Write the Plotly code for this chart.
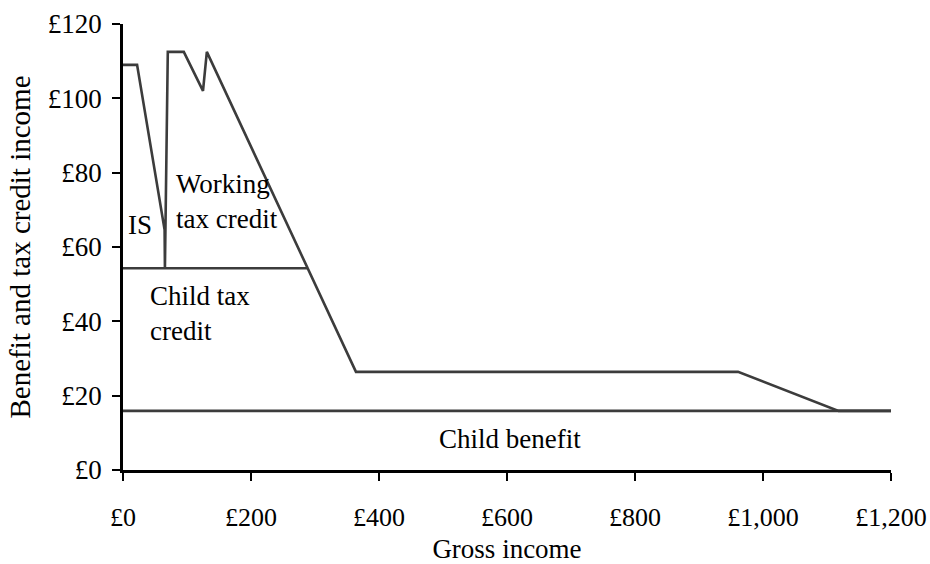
import plotly.graph_objects as go

# Data
total_x = [0, 22, 65, 65.5, 70, 95, 125, 131, 364, 961, 1118, 1200]
total_y = [109, 109, 64.6, 54.3, 112.5, 112.5, 102, 112.5, 26.4, 26.4, 15.9, 15.9]
ctc_x = [0, 288]
ctc_y = [54.3, 54.3]
cb_x = [0, 1200]
cb_y = [15.9, 15.9]

x_ticks = [0, 200, 400, 600, 800, 1000, 1200]
x_ticklabels = ["£0", "£200", "£400", "£600", "£800", "£1,000", "£1,200"]
y_ticks = [0, 20, 40, 60, 80, 100, 120]
y_ticklabels = ["£0", "£20", "£40", "£60", "£80", "£100", "£120"]

labels = [
    ("IS", 5, 66),
    ("Working<br>tax credit", 80, 72.2),
    ("Child tax<br>credit", 39, 42),
    ("Child benefit", 605, 8.3),
]

FONT = "Liberation Serif"
LINE_COLOR = "#3c3c3c"

fig = go.Figure()
for xs, ys in [(cb_x, cb_y), (ctc_x, ctc_y), (total_x, total_y)]:
    fig.add_trace(go.Scatter(x=xs, y=ys, mode="lines",
                             line=dict(color=LINE_COLOR, width=2.6),
                             hoverinfo="skip", showlegend=False))

aligns = ["left", "left", "left", "center"]
for (txt, ax, ay), al in zip(labels, aligns):
    fig.add_annotation(x=ax, y=ay, text=txt, showarrow=False,
                       xanchor="left" if al == "left" else "center",
                       yanchor="middle", align=al,
                       font=dict(family=FONT, size=27, color="black"))

fig.update_layout(
    width=930, height=564,
    margin=dict(l=123, r=39, t=24, b=94),
    plot_bgcolor="white", paper_bgcolor="white",
    font=dict(family=FONT, size=27, color="black"),
    showlegend=False,
)
fig.update_xaxes(range=[0, 1200], tickvals=x_ticks, ticktext=x_ticklabels,
                 showgrid=False, zeroline=False, showline=True, automargin=False,
                 linecolor="black", linewidth=2.5, ticks="outside",
                 ticklen=8, tickwidth=2, tickcolor="black",
                 tickfont=dict(size=26),
                 ticklabelstandoff=14,
                 title=dict(text="Gross income", font=dict(size=27), standoff=15))
fig.update_yaxes(range=[0, 120], tickvals=y_ticks, ticktext=y_ticklabels,
                 showgrid=False, zeroline=False, showline=True, automargin=False,
                 linecolor="black", linewidth=2.5, ticks="outside",
                 ticklen=8, tickwidth=2, tickcolor="black",
                 tickfont=dict(size=27),
                 ticklabelstandoff=5,
                 title=dict(text="Benefit and tax credit income", font=dict(size=29), standoff=9))

fig.write_html("out.html", config={"displayModeBar": False},
               post_script="document.body.style.margin='0';")
